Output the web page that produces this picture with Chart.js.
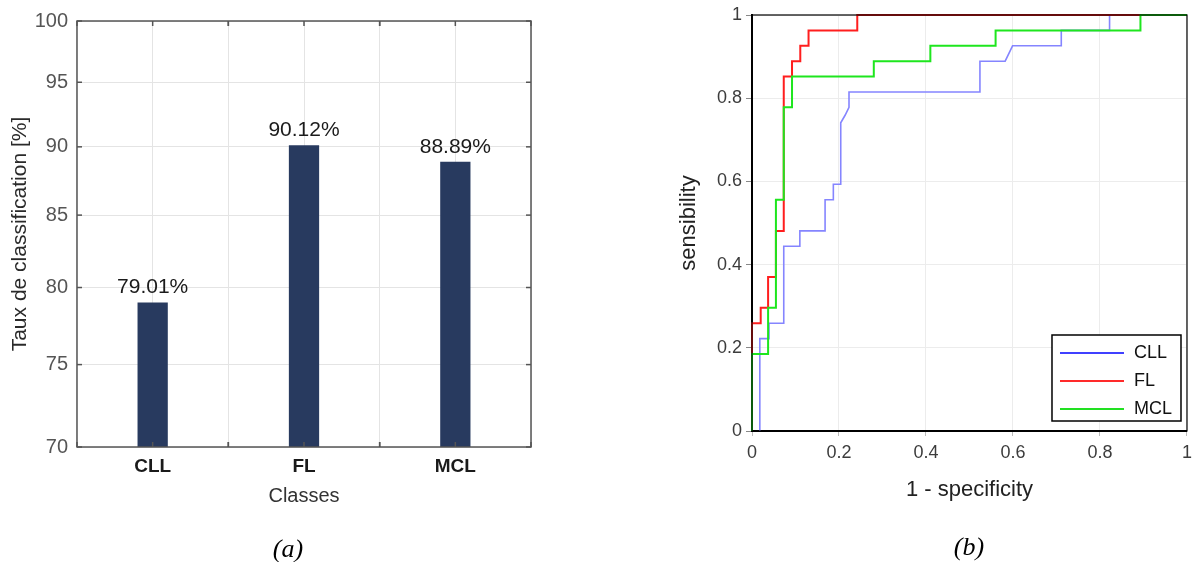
<html>

<head>
    <script src="https://cdn.jsdelivr.net/npm/chart.js@4.4.0/dist/chart.umd.min.js"></script>

    <style>
        body {
            margin: 0;
            background-color: #fff;
            width: 1198px;
            height: 562px;
            overflow: hidden;
            position: relative;
        }

        #boxA {
            position: absolute;
            left: 0;
            top: 0;
            width: 560px;
            height: 562px;
        }

        #boxB {
            position: absolute;
            left: 560px;
            top: 0;
            width: 638px;
            height: 562px;
        }

        .caption {
            position: absolute;
            font-family: 'Liberation Serif', 'Times New Roman', serif;
            font-style: italic;
            font-size: 26px;
            color: #000;
            transform: translate(-50%, -50%);
        }
    </style>

</head>

<body>
    <div id="boxA"><canvas id="barChart"></canvas></div>
    <div id="boxB"><canvas id="rocChart"></canvas></div>
    <div class="caption" style="left:288px; top:549px">(a)</div>
    <div class="caption" style="left:969px; top:547px">(b)</div>
</body>
<script>

    // (a) classification rate per class
    var classes = ['CLL', 'FL', 'MCL'];
    var tauxClassification = [79.01, 90.12, 88.89];
    var tauxTicks = [70, 75, 80, 85, 90, 95, 100];

    // (b) ROC curves (1 - specificity, sensibility)
    var cllFpr = [0.018, 0.018, 0.039, 0.039, 0.073, 0.073, 0.11, 0.11, 0.168, 0.168, 0.187, 0.187, 0.204, 0.204, 0.214, 0.223, 0.223, 0.524, 0.524, 0.582, 0.599, 0.711, 0.711, 0.822, 0.822, 1];
    var cllTpr = [0, 0.222, 0.222, 0.259, 0.259, 0.444, 0.444, 0.481, 0.481, 0.556, 0.556, 0.593, 0.593, 0.741, 0.759, 0.778, 0.815, 0.815, 0.889, 0.889, 0.926, 0.926, 0.963, 0.963, 1, 1];

    var flFpr = [0, 0, 0.02, 0.02, 0.037, 0.037, 0.055, 0.055, 0.073, 0.073, 0.092, 0.092, 0.111, 0.111, 0.13, 0.13, 0.242, 0.242, 1];
    var flTpr = [0, 0.259, 0.259, 0.296, 0.296, 0.37, 0.37, 0.481, 0.481, 0.852, 0.852, 0.889, 0.889, 0.926, 0.926, 0.963, 0.963, 1, 1];

    var mclFpr = [0, 0, 0.037, 0.037, 0.055, 0.055, 0.073, 0.073, 0.092, 0.092, 0.28, 0.28, 0.41, 0.41, 0.56, 0.56, 0.893, 0.893, 1];
    var mclTpr = [0, 0.185, 0.185, 0.296, 0.296, 0.556, 0.556, 0.778, 0.778, 0.852, 0.852, 0.889, 0.889, 0.926, 0.926, 0.963, 0.963, 1, 1];

    var rocTicks = [0, 0.2, 0.4, 0.6, 0.8, 1];


    Chart.defaults.font.family = '"Liberation Sans", Arial, sans-serif';
    var narrowFont = '"Liberation Sans Narrow", "Liberation Sans", Arial, sans-serif';

    function toPoints(xs, ys) {
        var pts = [];
        for (var i = 0; i < xs.length; i++) {
            pts.push({ x: xs[i], y: ys[i] });
        }
        return pts;
    }

    function fixedTicks(values) {
        return function (scale) {
            scale.ticks = values.map(function (v) { return { value: v }; });
        };
    }

    // matlab prints 0 and 1, not 0.0 and 1.0
    function shortNumber(v) {
        return String(Math.round(v * 10) / 10);
    }

    function line(ctx, x1, y1, x2, y2) {
        ctx.beginPath();
        ctx.moveTo(x1, y1);
        ctx.lineTo(x2, y2);
        ctx.stroke();
    }

    // box around the plot area (+ matlab style inner ticks for the bar plot)
    var framePlugin = {
        id: 'frame',
        afterDraw: function (chart, args, opts) {
            var a = chart.chartArea;
            var ctx = chart.ctx;
            ctx.save();
            ctx.strokeStyle = opts.color;
            ctx.lineWidth = opts.width;
            ctx.strokeRect(a.left, a.top, a.right - a.left, a.bottom - a.top);

            if (opts.innerTicks) {
                var ys = chart.scales.y;
                ys.ticks.forEach(function (t) {
                    var py = ys.getPixelForValue(t.value);
                    line(ctx, a.left, py, a.left + 5, py);
                    line(ctx, a.right - 5, py, a.right, py);
                });
                var xs = chart.scales.x;
                var half = (xs.getPixelForValue(1) - xs.getPixelForValue(0)) / 2;
                for (var i = 0; i < classes.length; i++) {
                    var px = xs.getPixelForValue(i);
                    [px - half, px, px + half].forEach(function (p) {
                        line(ctx, p, a.bottom, p, a.bottom - 5);
                        line(ctx, p, a.top, p, a.top + 5);
                    });
                }
            }
            ctx.restore();
        }
    };

    // percentage written above each bar
    var barLabels = {
        id: 'barLabels',
        afterDatasetsDraw: function (chart) {
            var ctx = chart.ctx;
            var meta = chart.getDatasetMeta(0);
            var values = chart.data.datasets[0].data;
            ctx.save();
            ctx.font = '21px "Liberation Sans", Arial, sans-serif';
            ctx.fillStyle = '#1b1b1b';
            ctx.textAlign = 'center';
            ctx.textBaseline = 'alphabetic';
            meta.data.forEach(function (bar, i) {
                ctx.fillText(values[i].toFixed(2) + '%', bar.x, bar.y - 9);
            });
            ctx.restore();
        }
    };

    // legend box inside the ROC plot, bottom right
    var rocLegend = {
        id: 'rocLegend',
        afterDraw: function (chart) {
            var a = chart.chartArea;
            var ctx = chart.ctx;
            var w = 129, h = 86;
            var left = a.right - 6 - w;
            var top = a.bottom - 10 - h;
            ctx.save();
            ctx.fillStyle = '#fff';
            ctx.fillRect(left, top, w, h);
            ctx.strokeStyle = '#000';
            ctx.lineWidth = 1.5;
            ctx.strokeRect(left, top, w, h);
            ctx.font = '18px "Liberation Sans", Arial, sans-serif';
            ctx.textBaseline = 'middle';
            ctx.textAlign = 'left';
            chart.data.datasets.forEach(function (ds, i) {
                var y = top + 18 + i * 28;
                ctx.strokeStyle = ds.legendColor;
                ctx.lineWidth = 2;
                line(ctx, left + 8, y, left + 72, y);
                ctx.fillStyle = '#111';
                ctx.fillText(ds.label, left + 82, y);
            });
            ctx.restore();
        }
    };


    function drawBarChart() {
        var gridColor = '#e4e4e4';
        new Chart(document.getElementById('barChart'), {
            type: 'bar',
            data: {
                labels: classes,
                datasets: [{
                    label: 'Taux de classification',
                    data: tauxClassification,
                    backgroundColor: '#283a5f',
                    borderWidth: 0,
                    barPercentage: 0.2,
                    categoryPercentage: 1
                }]
            },
            options: {
                responsive: true,
                maintainAspectRatio: false,
                animation: false,
                layout: { padding: { left: 0, right: 29, top: 15, bottom: 54 } },
                plugins: {
                    legend: { display: false },
                    tooltip: { enabled: false },
                    frame: { color: '#555', width: 1.5, innerTicks: true }
                },
                scales: {
                    x: {
                        type: 'category',
                        offset: true,
                        grid: { offset: false, color: gridColor, drawTicks: false },
                        border: { display: false },
                        ticks: {
                            padding: 8,
                            color: '#1a1a1a',
                            font: { family: narrowFont, size: 19, weight: 'bold' }
                        },
                        title: {
                            display: true,
                            text: 'Classes',
                            color: '#333',
                            font: { family: narrowFont, size: 20 },
                            padding: 0
                        },
                        afterFit: function (s) { s.height = 61; }
                    },
                    x2: {
                        type: 'category',
                        labels: classes,
                        position: 'bottom',
                        offset: true,
                        grid: { offset: true, color: gridColor, drawTicks: false },
                        border: { display: false },
                        ticks: { display: false },
                        afterFit: function (s) { s.height = 0; }
                    },
                    y: {
                        type: 'logarithmic',
                        min: 70,
                        max: 100,
                        afterBuildTicks: fixedTicks(tauxTicks),
                        grid: { color: gridColor, drawTicks: false },
                        border: { display: false },
                        ticks: {
                            padding: 9,
                            color: '#555',
                            font: { family: narrowFont, size: 20 },
                            callback: function (v) { return v; }
                        },
                        title: {
                            display: true,
                            text: 'Taux de classification [%]',
                            color: '#2a2a2a',
                            font: { size: 21 },
                            padding: { top: 8, bottom: 0 }
                        },
                        afterFit: function (s) { s.width = 77; }
                    }
                }
            },
            plugins: [framePlugin, barLabels]
        });
    }


    function drawRocChart() {
        var gridColor = '#ececec';
        var curve = { showLine: true, fill: false, pointRadius: 0, tension: 0, clip: false };
        new Chart(document.getElementById('rocChart'), {
            type: 'scatter',
            data: {
                datasets: [
                    Object.assign({
                        label: 'CLL',
                        data: toPoints(cllFpr, cllTpr),
                        borderColor: '#8585ff',
                        legendColor: '#4040ff',
                        borderWidth: 1.6,
                        order: 3
                    }, curve),
                    Object.assign({
                        label: 'FL',
                        data: toPoints(flFpr, flTpr),
                        borderColor: '#ff1e1e',
                        legendColor: '#ff2a2a',
                        borderWidth: 2,
                        order: 2
                    }, curve),
                    Object.assign({
                        label: 'MCL',
                        data: toPoints(mclFpr, mclTpr),
                        borderColor: '#1ee61e',
                        legendColor: '#22e022',
                        borderWidth: 2,
                        order: 1
                    }, curve)
                ]
            },
            options: {
                responsive: true,
                maintainAspectRatio: false,
                animation: false,
                layout: { padding: { left: 112, right: 6, top: 15, bottom: 55 } },
                plugins: {
                    legend: { display: false },
                    tooltip: { enabled: false },
                    frame: { color: '#000', width: 1.2, innerTicks: false }
                },
                scales: {
                    x: {
                        type: 'linear',
                        min: 0,
                        max: 1,
                        afterBuildTicks: fixedTicks(rocTicks),
                        grid: { color: gridColor, tickLength: 5, tickColor: '#bbb' },
                        border: { color: '#000', width: 2 },
                        ticks: {
                            padding: 6,
                            maxRotation: 0,
                            color: '#3c3c3c',
                            font: { size: 18 },
                            callback: shortNumber
                        },
                        title: {
                            display: true,
                            text: '1 - specificity',
                            color: '#222',
                            font: { size: 22 },
                            padding: { top: 0, bottom: 4 }
                        },
                        afterFit: function (s) { s.height = 76; }
                    },
                    y: {
                        type: 'linear',
                        min: 0,
                        max: 1,
                        afterBuildTicks: fixedTicks(rocTicks),
                        grid: { color: gridColor, tickLength: 6, tickColor: '#888' },
                        border: { color: '#000', width: 2 },
                        ticks: {
                            padding: 4,
                            color: '#3c3c3c',
                            font: { size: 18 },
                            callback: shortNumber
                        },
                        title: {
                            display: true,
                            text: 'sensibility',
                            color: '#222',
                            font: { size: 22 },
                            padding: { top: 4, bottom: 0 }
                        },
                        afterFit: function (s) { s.width = 80; }
                    }
                }
            },
            plugins: [framePlugin, rocLegend]
        });
    }

    drawBarChart();
    drawRocChart();

</script>

</html>
